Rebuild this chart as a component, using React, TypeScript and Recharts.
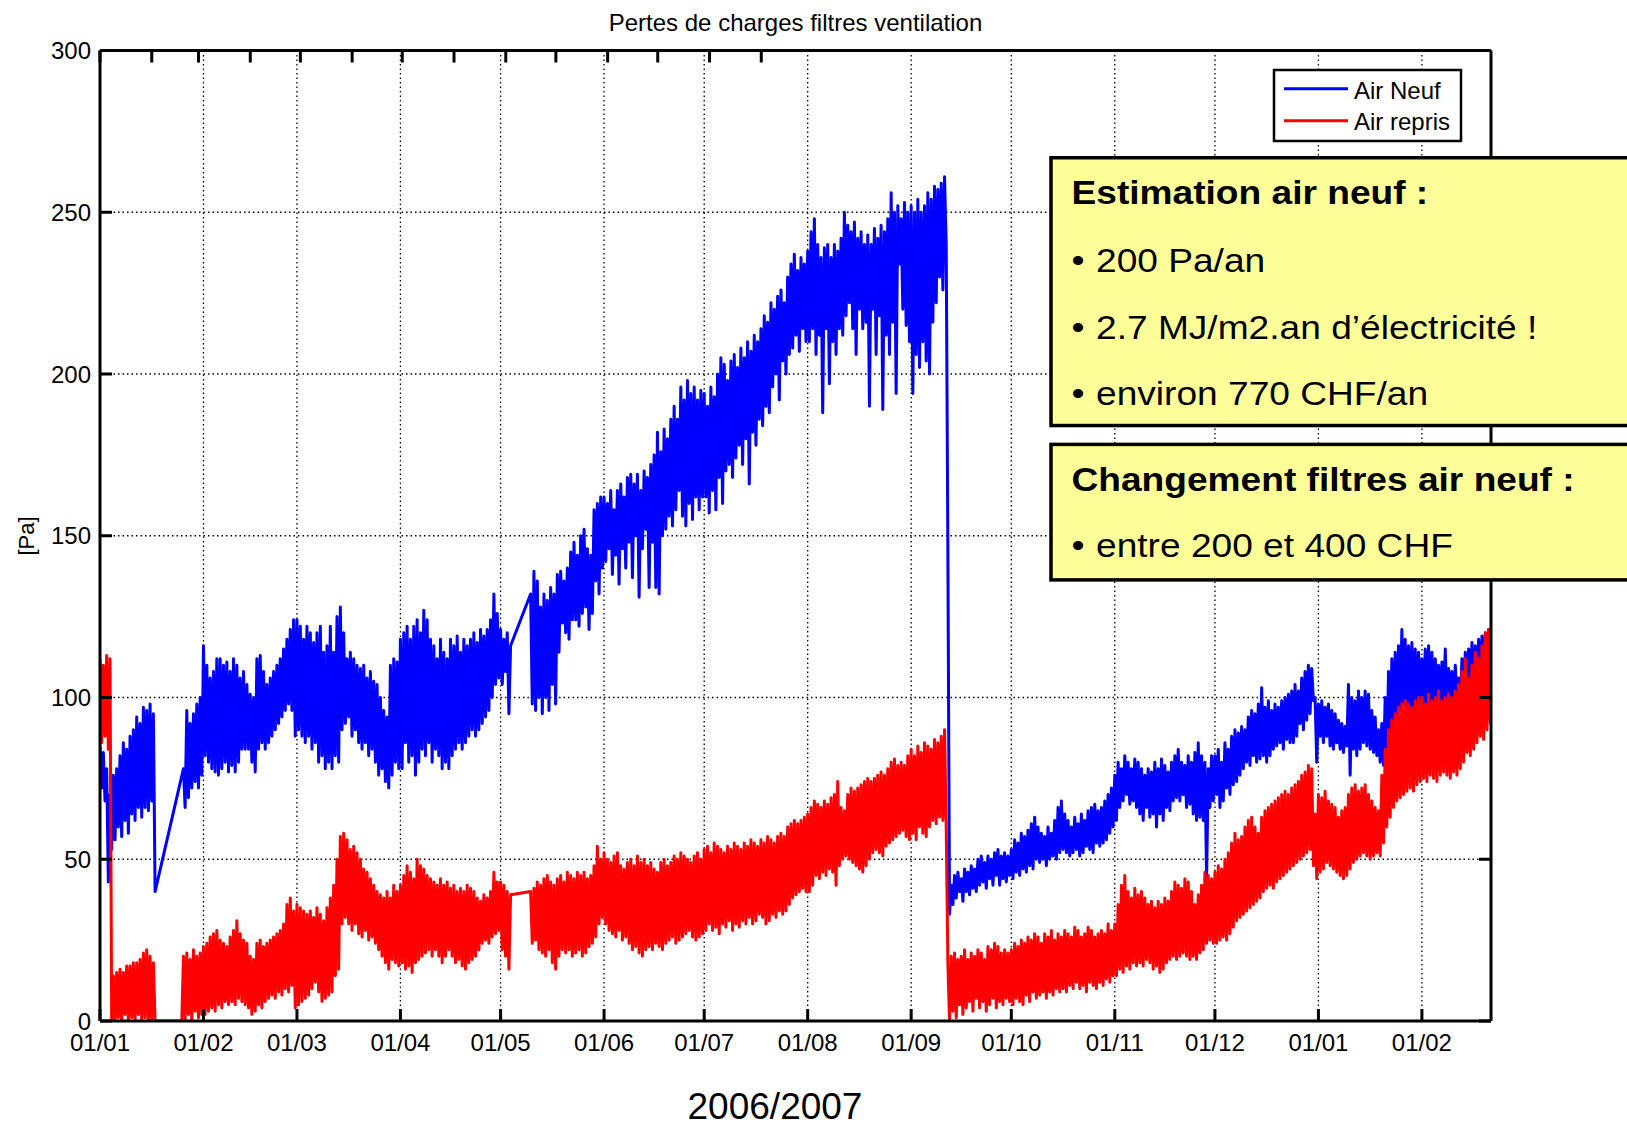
import React from 'react';
import { LineChart, Line, XAxis, YAxis, CartesianGrid } from 'recharts';

// Canvas and plot frame (plot area: x 100..1491, y 50.5..1021)
const W = 1627;
const H = 1127;
const MARGIN = { top: 49.5, right: 135, bottom: 105, left: 99 };
const FONT = '"Liberation Sans", Arial, Helvetica, sans-serif';
const TICK_LEN = 12;

// Time axis: days since 01/01/2006, ticks on the first of each month
const dayMax = 416.7;
const monthStarts = [0, 31, 59, 90, 120, 151, 181, 212, 243, 273, 304, 334, 365, 396];
const monthLabels = ['01/01', '01/02', '01/03', '01/04', '01/05', '01/06', '01/07', '01/08', '01/09', '01/10', '01/11', '01/12', '01/01', '01/02'];
const yTicks = [0, 50, 100, 150, 200, 250, 300];

type V = number | null;

// Pressure drop [Pa], one row per month: daily peak and daily trough
const airNeufMax: V[][] = [
  [85, 83, 78, 70, 76, 78, 82, 86, 84, 88, 90, 94, 92, 97, 96, 98, 95, null, null, null, null, null, null, null, null, 78, 96, 92, 95, 98, 100],
  [116, 110, 106, 108, 112, 112, 110, 111, 108, 112, 110, 106, 108, 104, 101, 100, 112, 113, 108, 104, 106, 108, 110, 112, 115, 118, 121, 124],
  [124, 122, 118, 122, 120, 117, 120, 122, 114, 116, 122, 114, 125, 128, 120, 112, 114, 112, 110, 109, 110, 106, 108, 105, 104, 100, 96, 94, 110, 112, 111],
  [118, 120, 122, 118, 122, 124, 120, 127, 124, 118, 116, 112, 118, 114, 112, 118, 116, 119, 114, 118, 116, 118, 120, 117, 121, 119, 121, 124, 132, 126],
  [121, 118, 120, 116, null, null, null, null, null, 132, 139, 136, 128, 132, 130, 134, 132, 138, 139, 136, 140, 145, 148, 144, 150, 152, 146, 144, 158, 160, 162],
  [162, 160, 164, 158, 164, 166, 162, 168, 169, 166, 169, 164, 170, 168, 172, 175, 182, 176, 183, 180, 186, 190, 186, 196, 192, 198, 194, 196, 192, 195],
  [194, 190, 196, 193, 200, 205, 203, 198, 204, 206, 202, 208, 205, 210, 207, 212, 210, 214, 218, 216, 222, 220, 224, 226, 222, 230, 234, 237, 232, 236, 234],
  [238, 244, 248, 240, 236, 239, 240, 236, 240, 238, 242, 250, 246, 244, 247, 242, 244, 240, 243, 240, 245, 242, 246, 244, 248, 256, 250, 252, 248, 253, 250],
  [252, 250, 254, 250, 252, 256, 254, 258, 257, 259, 261, 145, 42, 45, 46, 44, 47, 46, 48, 47, 50, 51, 49, 51, 50, 52, 53, 51, 52, 51],
  [53, 56, 55, 58, 57, 59, 61, 63, 60, 58, 57, 60, 58, 62, 66, 68, 64, 62, 60, 63, 61, 64, 62, 65, 66, 67, 65, 66, 68, 70, 72],
  [76, 80, 78, 82, 80, 78, 81, 80, 78, 76, 78, 77, 80, 78, 81, 79, 77, 80, 82, 84, 80, 79, 82, 80, 83, 86, 82, 80, 78, 82],
  [82, 84, 80, 86, 84, 88, 90, 89, 91, 90, 94, 96, 95, 98, 103, 97, 99, 96, 98, 97, 99, 100, 101, 102, 104, 102, 106, 108, 110, 109, 100],
  [98, 99, 97, 98, 96, 95, 93, 92, 91, 104, 100, 99, 102, 100, 102, 101, 96, 94, 90, 92, 100, 108, 112, 114, 116, 121, 118, 116, 117, 115, 114],
  [112, 115, 116, 114, 112, 110, 111, 115, 109, 108, 110, 106, 112, 114, 115, 117, 116, 118, 119, 120, 121],
];

const airNeufMin: V[][] = [
  [72, 68, 43, 53, 56, 60, 57, 62, 58, 64, 62, 66, 63, 66, 65, 68, 40, null, null, null, null, null, null, null, null, 66, 69, 72, 74, 72, 76],
  [82, 80, 78, 77, 76, 78, 80, 77, 79, 77, 80, 84, 84, 84, 80, 77, 84, 86, 84, 86, 88, 90, 92, 94, 96, 98, 96, 88],
  [90, 88, 86, 88, 84, 86, 80, 82, 78, 80, 78, 82, 80, 90, 92, 94, 88, 90, 86, 84, 86, 82, 84, 80, 76, 78, 74, 72, 76, 80, 78],
  [78, 86, 80, 82, 76, 80, 84, 82, 86, 80, 84, 82, 78, 80, 78, 82, 84, 86, 84, 86, 88, 90, 88, 90, 92, 94, 96, 100, 104, 106],
  [104, 108, 95, null, null, null, null, null, null, 98, 96, 100, 95, 100, 96, 104, 98, 114, 123, 120, 118, 124, 124, 122, 126, 128, 121, 126, 136, 132, 140],
  [142, 146, 138, 144, 135, 146, 140, 148, 137, 150, 131, 146, 152, 134, 148, 134, 132, 150, 152, 156, 153, 158, 164, 156, 153, 160, 155, 162, 158, 162],
  [162, 157, 164, 158, 168, 160, 170, 172, 168, 174, 178, 172, 180, 166, 182, 178, 186, 184, 190, 188, 196, 200, 192, 204, 200, 206, 208, 212, 207, 214, 210],
  [210, 214, 206, 212, 188, 214, 197, 210, 206, 214, 212, 218, 222, 214, 206, 220, 214, 216, 190, 220, 206, 218, 189, 212, 206, 216, 194, 234, 220, 215, 210],
  [194, 206, 202, 210, 204, 200, 216, 222, 230, 226, 240, 33, 36, 38, 40, 37, 40, 39, 41, 40, 42, 43, 41, 44, 42, 45, 42, 44, 43, 45],
  [44, 46, 45, 47, 46, 48, 47, 50, 49, 50, 48, 50, 51, 50, 52, 53, 52, 51, 52, 53, 51, 52, 54, 53, 52, 55, 54, 55, 56, 58, 60],
  [62, 66, 68, 70, 67, 68, 66, 64, 62, 66, 63, 64, 60, 64, 62, 66, 65, 68, 69, 68, 70, 66, 67, 64, 62, 63, 62, 44, 66, 68],
  [70, 66, 68, 72, 70, 73, 74, 76, 78, 80, 79, 82, 80, 81, 82, 80, 82, 84, 85, 86, 84, 87, 86, 86, 88, 92, 90, 93, 95, 99, 80],
  [88, 86, 88, 85, 84, 86, 84, 83, 85, 76, 84, 82, 84, 86, 85, 84, 83, 82, 80, 79, 80, 86, 92, 90, 96, 98, 96, 94, 95, 96, 97],
  [96, 98, 96, 97, 98, 96, 98, 97, 99, 96, 100, 98, 100, 101, 102, 100, 103, 104, 105, 106, 108],
];

const airReprisMax: V[][] = [
  [112, 110, 113, 112, 14, 15, 16, 15, 17, 17, 18, 18, 19, 21, 22, 20, 18, 0, 0, 0, 0, 0, 0, 0, 0, 20, 21, 19, 22, 20, 21],
  [23, 24, 26, 27, 28, 25, 24, 23, 26, 28, 31, 27, 25, 24, 20, 19, 24, 25, 23, 24, 25, 26, 27, 28, 30, 36, 38, 34],
  [36, 35, 34, 33, 34, 32, 35, 33, 31, 35, 38, 42, 50, 57, 58, 56, 53, 54, 52, 50, 47, 46, 44, 42, 40, 39, 38, 40, 38, 42, 40],
  [42, 45, 48, 46, 44, 50, 48, 47, 45, 44, 43, 42, 44, 42, 43, 41, 42, 40, 41, 40, 42, 41, 40, 38, 37, 39, 38, 40, 46, 43],
  [43, 42, 40, 39, null, null, null, null, null, 40, 41, 43, 42, 44, 45, 43, 42, 44, 45, 43, 46, 45, 44, 46, 45, 46, 44, 45, 48, 54, 50],
  [52, 50, 49, 51, 52, 48, 47, 49, 50, 48, 51, 49, 50, 48, 49, 47, 46, 49, 50, 48, 49, 51, 50, 52, 51, 50, 49, 51, 52, 50],
  [53, 54, 52, 55, 54, 53, 52, 54, 53, 55, 54, 53, 55, 54, 56, 55, 54, 56, 55, 57, 56, 55, 57, 58, 57, 60, 61, 62, 61, 62, 63],
  [64, 66, 68, 67, 66, 68, 67, 69, 70, 74, 66, 65, 70, 72, 71, 72, 73, 74, 75, 74, 75, 76, 77, 76, 78, 80, 81, 79, 80, 79, 82],
  [84, 82, 85, 83, 86, 85, 84, 87, 86, 88, 90, 18, 20, 21, 19, 20, 22, 19, 21, 20, 22, 21, 19, 23, 22, 24, 23, 21, 22, 21],
  [22, 24, 23, 25, 24, 26, 25, 27, 26, 24, 27, 26, 28, 25, 27, 26, 28, 27, 26, 29, 28, 26, 27, 29, 28, 26, 27, 28, 27, 30, 28],
  [30, 36, 42, 45, 40, 38, 41, 39, 40, 38, 36, 37, 35, 37, 36, 38, 37, 40, 43, 42, 41, 44, 43, 40, 36, 39, 42, 46, 45, 44],
  [46, 48, 47, 50, 52, 55, 58, 56, 57, 60, 62, 63, 60, 58, 63, 65, 66, 67, 68, 69, 70, 71, 70, 72, 73, 74, 76, 77, 79, 78, 64],
  [70, 69, 71, 68, 67, 66, 63, 65, 66, 70, 72, 73, 71, 72, 73, 70, 68, 66, 65, 76, 84, 90, 93, 95, 97, 98, 99, 98, 97, 99, 100],
  [100, 98, 101, 99, 100, 102, 99, 100, 101, 100, 102, 104, 108, 112, 106, 110, 114, 112, 116, 120, 121],
];

const airReprisMin: V[][] = [
  [86, 88, 84, 0, 0, 1, 0, 2, 0, 1, 0, 2, 0, 1, 0, 0, 0, 0, 0, 0, 0, 0, 0, 0, 0, 0, 2, 0, 3, 1, 2],
  [2, 3, 4, 3, 5, 4, 6, 5, 6, 5, 7, 6, 5, 4, 2, 3, 5, 4, 6, 7, 8, 7, 9, 8, 10, 9, 11, 4],
  [5, 6, 7, 8, 10, 12, 9, 6, 7, 8, 9, 14, 16, 30, 32, 30, 28, 30, 27, 26, 28, 25, 26, 24, 22, 20, 18, 16, 19, 18, 17],
  [18, 16, 17, 15, 18, 19, 20, 21, 22, 20, 22, 20, 18, 20, 22, 20, 18, 19, 17, 16, 18, 19, 20, 22, 24, 25, 24, 26, 27, 28],
  [22, 20, 16, null, null, null, null, null, null, 24, 25, 22, 21, 20, 22, 18, 16, 20, 22, 21, 22, 20, 21, 22, 20, 21, 23, 24, 26, 30, 32],
  [30, 28, 27, 26, 28, 25, 26, 24, 22, 23, 21, 20, 22, 23, 22, 24, 23, 22, 24, 25, 26, 24, 25, 26, 27, 28, 26, 25, 26, 27],
  [28, 30, 28, 29, 27, 30, 29, 31, 28, 30, 29, 31, 30, 32, 30, 31, 33, 32, 30, 31, 33, 32, 34, 33, 34, 36, 38, 39, 40, 41, 40],
  [40, 42, 45, 44, 46, 45, 47, 46, 42, 48, 50, 51, 50, 49, 48, 47, 46, 48, 50, 52, 53, 52, 51, 54, 55, 56, 57, 58, 59, 57, 56],
  [58, 56, 60, 58, 57, 60, 62, 61, 63, 62, 60, 0, 3, 1, 5, 2, 4, 6, 3, 7, 4, 6, 3, 5, 7, 4, 6, 5, 7, 6],
  [5, 7, 6, 5, 8, 6, 9, 7, 8, 9, 7, 9, 8, 10, 9, 10, 9, 11, 10, 12, 10, 11, 9, 12, 11, 10, 12, 11, 13, 12, 14],
  [14, 16, 15, 17, 16, 18, 17, 18, 17, 19, 18, 16, 17, 15, 16, 18, 19, 20, 19, 20, 21, 20, 19, 20, 19, 21, 22, 24, 25, 24],
  [24, 25, 26, 25, 27, 29, 31, 32, 33, 34, 35, 36, 37, 38, 40, 41, 42, 41, 43, 44, 45, 46, 47, 48, 49, 50, 51, 52, 53, 48, 44],
  [46, 47, 49, 48, 47, 46, 45, 44, 45, 47, 49, 50, 51, 52, 51, 50, 51, 52, 51, 55, 60, 63, 66, 68, 69, 70, 71, 72, 71, 73, 74],
  [75, 74, 76, 75, 74, 76, 77, 76, 75, 77, 76, 78, 80, 83, 82, 84, 86, 88, 87, 90, 92],
];

const SERIES = [
  { key: 'neuf', name: 'Air Neuf', color: '#0000ff', max: airNeufMax, min: airNeufMin },
  { key: 'repris', name: 'Air repris', color: '#ff0000', max: airReprisMax, min: airReprisMin },
];

// Peak at the start of each day, trough at midday
type Row = { t: number; [k: string]: number | null };
function buildRows(): Row[] {
  const rows: Row[] = [];
  monthStarts.forEach((start, m) => {
    const n = Math.max(...SERIES.map((s) => s.max[m].length));
    for (let i = 0; i < n; i++) {
      const hi: Row = { t: start + i };
      const lo: Row = { t: start + i + 0.5 };
      SERIES.forEach((s) => {
        hi[s.key] = s.max[m][i] ?? null;
        lo[s.key] = s.min[m][i] ?? null;
      });
      rows.push(hi, lo);
    }
  });
  return rows;
}
const rows = buildRows();

const tickLabel = (v: number) => {
  const i = monthStarts.indexOf(v);
  return i >= 0 ? monthLabels[i] : '';
};

const axisLine = { stroke: '#000', strokeWidth: 3 };
const tickStroke = { stroke: '#000', strokeWidth: 3 };

// Inward tick marks, MATLAB style
const BottomTick = (p: any) => (
  <g>
    <line x1={p.x} x2={p.x} y1={p.y} y2={p.y - TICK_LEN} {...tickStroke} />
    <text x={p.x} y={p.y + 29.5} textAnchor="middle" fontSize={24} fontFamily={FONT} fill="#000">
      {tickLabel(p.payload.value)}
    </text>
  </g>
);
const TopTick = (p: any) => <line x1={p.x} x2={p.x} y1={p.y} y2={p.y + TICK_LEN} {...tickStroke} />;
const LeftTick = (p: any) => (
  <g>
    <line x1={p.x} x2={p.x + TICK_LEN} y1={p.y} y2={p.y} {...tickStroke} />
    <text x={p.x - 9} y={p.y + 8.6} textAnchor="end" fontSize={24} fontFamily={FONT} fill="#000">
      {p.payload.value}
    </text>
  </g>
);
const RightTick = (p: any) => <line x1={p.x} x2={p.x - TICK_LEN} y1={p.y} y2={p.y} {...tickStroke} />;

const notes = [
  {
    y: 157.75, h: 267.8,
    title: 'Estimation air neuf :', titleY: 204,
    items: [
      { text: '200 Pa/an', y: 272 },
      { text: '2.7 MJ/m2.an d\u2019électricité !', y: 339 },
      { text: 'environ 770 CHF/an', y: 405 },
    ],
  },
  {
    y: 444.4, h: 135.5,
    title: 'Changement filtres air neuf :', titleY: 491,
    items: [{ text: 'entre 200 et 400 CHF', y: 557 }],
  },
];
const NOTE_STRETCH = 1.125;

export default function App() {
  return (
    <div style={{ position: 'absolute', left: 0, top: 0, width: W, height: H, overflow: 'hidden', background: '#fff' }}>
      <LineChart width={W} height={H} data={rows} margin={MARGIN}>
        {SERIES.map((s) => (
          <Line
            key={s.key}
            dataKey={s.key}
            name={s.name}
            type="linear"
            stroke={s.color}
            strokeWidth={3}
            strokeLinejoin="round"
            dot={false}
            activeDot={false}
            connectNulls
            isAnimationActive={false}
          />
        ))}
        <CartesianGrid stroke="#000" strokeWidth={1.3} strokeDasharray="1.5 3" />
        <XAxis
          dataKey="t"
          type="number"
          domain={[0, dayMax]}
          ticks={monthStarts}
          allowDataOverflow
          height={1}
          axisLine={axisLine}
          tickLine={false}
          tickSize={0}
          tickMargin={0}
          tick={BottomTick}
          interval={0}
        />
        <XAxis
          xAxisId="top"
          orientation="top"
          type="number"
          domain={[0, dayMax]}
          ticks={monthStarts}
          allowDataOverflow
          height={1}
          axisLine={axisLine}
          tickLine={false}
          tickSize={0}
          tickMargin={0}
          tick={TopTick}
          interval={0}
        />
        <YAxis
          type="number"
          domain={[0, 300]}
          ticks={yTicks}
          allowDataOverflow
          width={1}
          axisLine={axisLine}
          tickLine={false}
          tickSize={0}
          tickMargin={0}
          tick={LeftTick}
          interval={0}
        />
        <YAxis
          yAxisId="right"
          orientation="right"
          type="number"
          domain={[0, 300]}
          ticks={yTicks}
          allowDataOverflow
          width={1}
          axisLine={axisLine}
          tickLine={false}
          tickSize={0}
          tickMargin={0}
          tick={RightTick}
          interval={0}
        />
      </LineChart>

      <svg
        width={W}
        height={H}
        style={{ position: 'absolute', left: 0, top: 0, pointerEvents: 'none' }}
        fontFamily={FONT}
      >
        <text x={795.5} y={31} textAnchor="middle" fontSize={24} fill="#000">
          Pertes de charges filtres ventilation
        </text>
        <text
          x={34}
          y={536}
          textAnchor="middle"
          fontSize={22}
          fill="#000"
          transform="rotate(-90 34 536)"
        >
          [Pa]
        </text>
        <text x={775} y={1119} textAnchor="middle" fontSize={37} fill="#000">
          2006/2007
        </text>

        {/* legend */}
        <rect x={1274} y={70} width={187} height={71} fill="#fff" stroke="#000" strokeWidth={2.5} />
        {SERIES.map((s, i) => (
          <g key={s.key}>
            <line x1={1284} x2={1348} y1={88.7 + i * 32} y2={88.7 + i * 32} stroke={s.color} strokeWidth={3} />
            <text x={1354} y={99 + i * 31} fontSize={24} fill="#000">
              {s.name}
            </text>
          </g>
        ))}

        {/* annotation boxes */}
        {notes.map((n, k) => (
          <g key={k}>
            <rect x={1051} y={n.y} width={700} height={n.h} fill="#ffff99" stroke="#000" strokeWidth={3.5} />
            <text
              transform={`translate(1071.5 ${n.titleY}) scale(${NOTE_STRETCH} 1)`}
              fontSize={33}
              fontWeight="bold"
              fill="#000"
            >
              {n.title}
            </text>
            {n.items.map((it, j) => (
              <g key={j}>
                <text transform={`translate(1071.5 ${it.y}) scale(${NOTE_STRETCH} 1)`} fontSize={33} fill="#000">
                  {'\u2022'}
                </text>
                <text transform={`translate(1096 ${it.y}) scale(${NOTE_STRETCH} 1)`} fontSize={33} fill="#000">
                  {it.text}
                </text>
              </g>
            ))}
          </g>
        ))}
      </svg>
    </div>
  );
}
